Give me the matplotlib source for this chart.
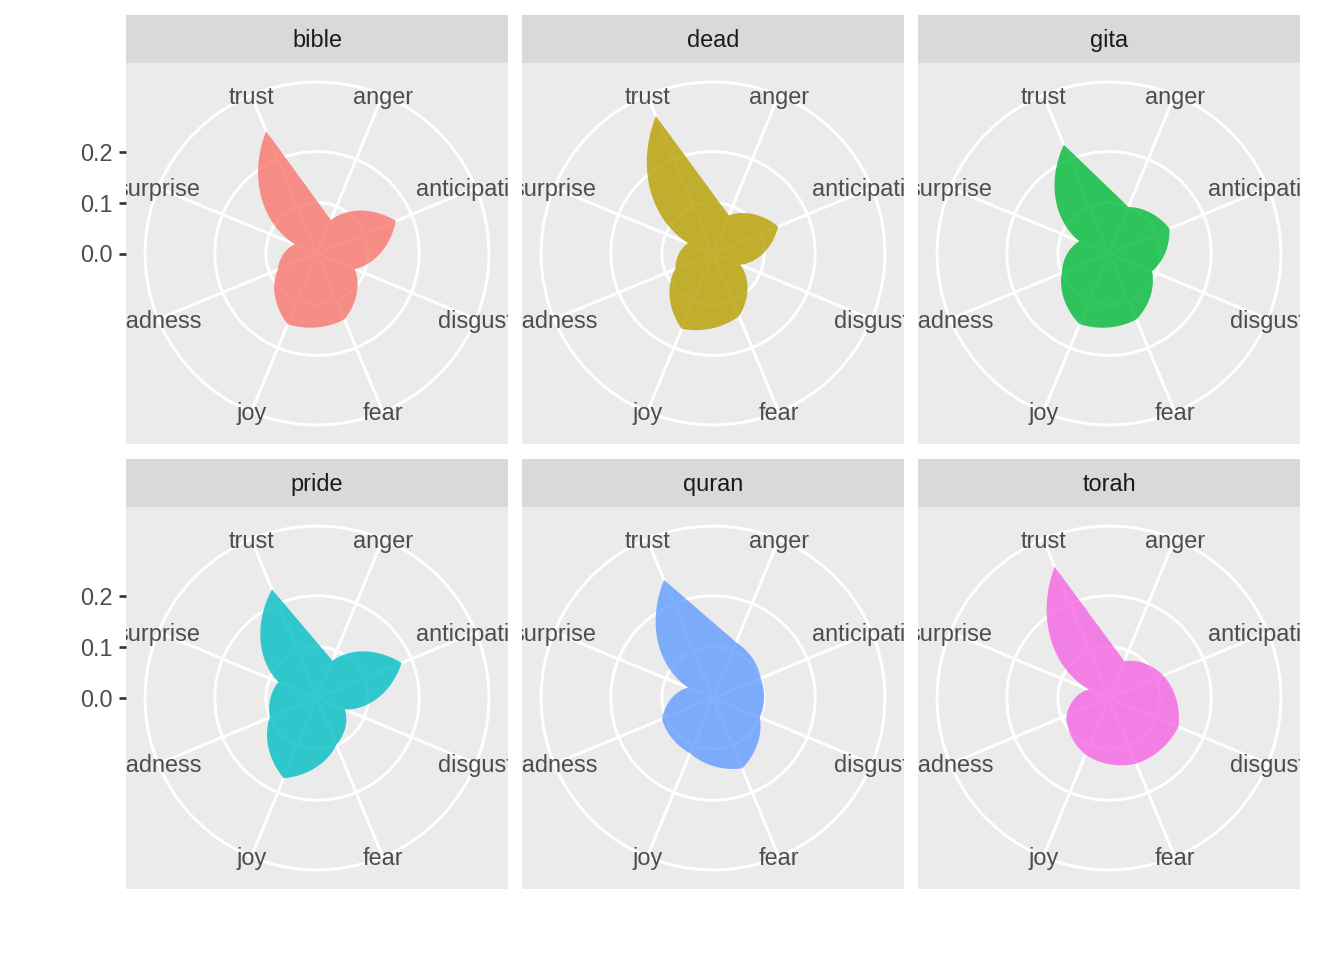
"""
Emotion profile per book, ggplot-style polar facets
"""
import numpy as np
import matplotlib
matplotlib.use('Agg')
import matplotlib.pyplot as plt
from matplotlib.patches import Circle, Polygon

plt.rcParams['font.family'] = ['Liberation Sans', 'DejaVu Sans']

# -- data ----------------------
emotions = ['anger', 'anticipation', 'disgust', 'fear',
            'joy', 'sadness', 'surprise', 'trust']
books = ['bible', 'dead', 'gita', 'pride', 'quran', 'torah']

bible = [0.071, 0.167, 0.080, 0.140, 0.150, 0.083, 0.047, 0.260]
dead = [0.081, 0.138, 0.058, 0.133, 0.160, 0.080, 0.053, 0.292]
gita = [0.099, 0.128, 0.091, 0.140, 0.150, 0.100, 0.063, 0.231]
pride = [0.079, 0.179, 0.059, 0.099, 0.170, 0.100, 0.082, 0.230]
quran = [0.118, 0.101, 0.099, 0.149, 0.117, 0.108, 0.053, 0.250]
torah = [0.078, 0.115, 0.147, 0.139, 0.120, 0.090, 0.043, 0.278]

values = [bible, dead, gita, pride, quran, torah]
colors = ['#F8766D', '#B79F00', '#00BA38', '#00BFC4', '#619CFF', '#F564E3']

r_breaks = [0.0, 0.1, 0.2]
R_MAX = 0.299          # radial value that reaches 0.4 of the panel

BG = '#EBEBEB'
STRIP = '#D9D9D9'
W, H = 1344, 960


def to_npc(r):
    return np.asarray(r) / R_MAX * 0.4


def cat_angles():
    return (np.arange(len(emotions)) + 0.5) * 2 * np.pi / len(emotions)


def polar_shape(vals):
    # straight lines in (theta, r) become spirals, like coord_polar munching
    th = cat_angles()
    ts, rs = [], []
    for i in range(len(vals) - 1):
        ts.append(np.linspace(th[i], th[i + 1], 60))
        rs.append(np.linspace(vals[i], vals[i + 1], 60))
    t = np.concatenate(ts)
    r = to_npc(np.concatenate(rs))
    return np.column_stack([0.5 + r * np.sin(t), 0.5 + r * np.cos(t)])


def panel(ax, vals, color, left):
    ax.set_facecolor(BG)
    ax.set_xlim(0, 1)
    ax.set_ylim(0, 1)
    for s in ax.spines.values():
        s.set_visible(False)
    ax.set_xticks([])

    # grid
    for rb in r_breaks[1:]:
        ax.add_patch(Circle((0.5, 0.5), to_npc(rb), fill=False,
                            ec='white', lw=1.1, zorder=1))
    ax.add_patch(Circle((0.5, 0.5), 0.45, fill=False, ec='white', lw=1.1, zorder=1))
    for t in cat_angles():
        ax.plot([0.5, 0.5 + 0.45 * np.sin(t)], [0.5, 0.5 + 0.45 * np.cos(t)],
                color='white', lw=1.1, zorder=1, solid_capstyle='butt')

    ax.add_patch(Polygon(polar_shape(vals), closed=True, fc=color,
                         alpha=0.8, ec='none', zorder=2))

    for t, lab in zip(cat_angles(), emotions):
        ax.text(0.5 + 0.45 * np.sin(t), 0.5 + 0.45 * np.cos(t) - 0.005, lab,
                ha='center', va='center', fontsize=8.8, color='#4D4D4D',
                clip_on=True, zorder=3)

    if left:
        ax.set_yticks(0.5 + to_npc(r_breaks))
        ax.set_yticklabels([f'{b:.1f}' for b in r_breaks])
        ax.tick_params(axis='y', length=2.75, width=1.0, color='#333333',
                       labelsize=8.8, labelcolor='#4D4D4D', pad=2.2)
    else:
        ax.set_yticks([])


def main():
    fig = plt.figure(figsize=(7, 5), dpi=192)
    xs = [126, 522, 918]
    rows = [(15, 63, 444), (459, 507, 889)]
    pw = 382
    for k, (name, vals, col) in enumerate(zip(books, values, colors)):
        r, c = divmod(k, 3)
        s_top, p_top, p_bot = rows[r]
        x0 = xs[c] / W
        ax = fig.add_axes([x0, 1 - p_bot / H, pw / W, (p_bot - p_top) / H])
        panel(ax, vals, col, c == 0)

        sax = fig.add_axes([x0, 1 - p_top / H, pw / W, (p_top - s_top) / H])
        sax.set_facecolor(STRIP)
        sax.set_xticks([])
        sax.set_yticks([])
        for s in sax.spines.values():
            s.set_visible(False)
        sax.text(0.5, 0.46, name, ha='center', va='center',
                 fontsize=8.8, color='#1A1A1A', transform=sax.transAxes)

    fig.savefig('out.png', dpi=192, facecolor='white')


main()
